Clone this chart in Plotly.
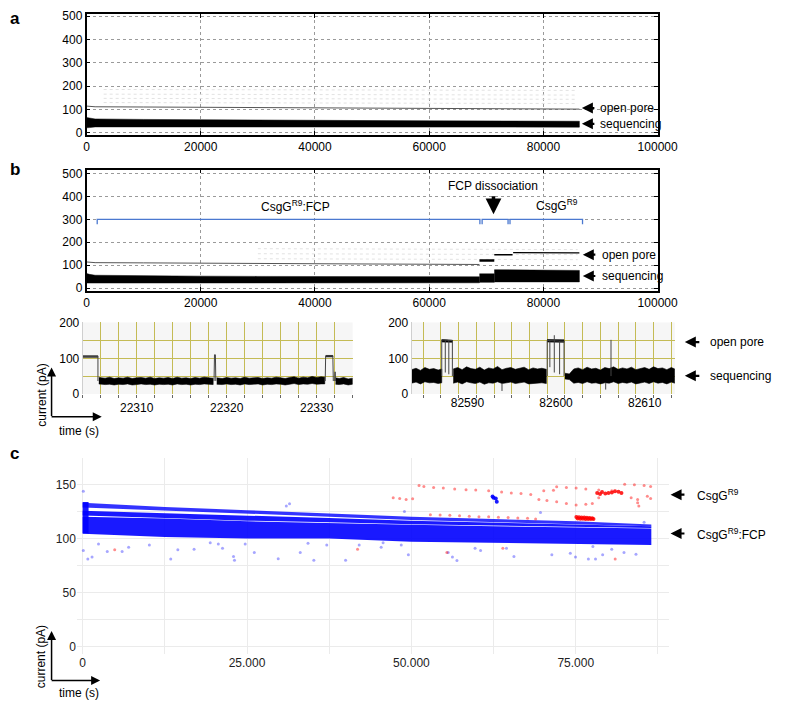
import plotly.graph_objects as go

W, H = 800, 714

# ---------------- panel a : full run, CsgG pore ----------------
a_t = [0, 500, 1500, 10000, 20000, 30000, 40000, 50000, 60000, 70000, 80000, 86300]
a_seq_lo = [22, 23, 26, 27, 26, 26, 26, 25, 25, 25, 25, 25]
a_seq_hi = [66, 64, 60, 58, 56, 55, 54, 53, 52, 51, 50, 50]
a_open = [115, 113, 112, 111, 110, 109, 108, 107, 106, 105, 103, 102]
a_faint_t = [3000, 86000]
a_faint_levels = [[186, 182], [166, 162], [148, 144], [130, 126]]

# ---------------- panel b : full run, CsgG:FCP pore ----------------
b_t1 = [0, 500, 1500, 10000, 20000, 30000, 40000, 50000, 60000, 68800]
b_seq_lo1 = [22, 23, 24, 24, 24, 23, 23, 23, 23, 23]
b_seq_hi1 = [64, 60, 56, 53, 52, 51, 50, 50, 49, 49]
b_open1 = [114, 112, 111, 110, 108, 107, 106, 105, 104, 103]
b_t2 = [68800, 71400]
b_seq_lo2 = [25, 25]
b_seq_hi2 = [62, 62]
b_open2 = [120, 120]
b_t3 = [71400, 74500, 80000, 86300]
b_seq_lo3 = [27, 27, 27, 27]
b_seq_hi3 = [80, 79, 78, 77]
b_open3_t = [71400, 74600]
b_open3 = [145, 145]
b_open4_t = [74700, 80000, 86300]
b_open4 = [155, 154, 154]
b_faint_t = [30000, 86000]
b_faint_levels = [[172, 168], [150, 146], [128, 124]]
b_brackets = [(1870, 68880), (69270, 73810), (74150, 86850)]
bracket_level = 300
bracket_foot = 279

# ---------------- left inset ----------------
li_seg1_t = [22305.8, 22306.5, 22307, 22307.5, 22308, 22308.5, 22309, 22309.5, 22310, 22310.5,
             22311, 22311.5, 22312, 22312.5, 22313, 22313.5, 22314, 22314.5, 22315, 22315.5,
             22316, 22316.5, 22317, 22317.5, 22318, 22318.5]
li_seg1_hi = [46, 44, 47, 43, 45, 44, 47, 43, 45, 46, 44, 47, 43, 45, 44, 46, 43, 47, 44, 45, 43, 46, 44, 47, 45, 44]
li_seg1_lo = [28, 26, 27, 25, 27, 26, 28, 25, 26, 28, 26, 27, 25, 27, 26, 27, 25, 28, 26, 27, 25, 27, 26, 28, 27, 26]
li_seg2_t = [22318.9, 22319.5, 22320, 22320.5, 22321, 22321.5, 22322, 22322.5, 22323, 22323.5,
             22324, 22324.5, 22325, 22325.5, 22326, 22326.5, 22327, 22327.5, 22328, 22328.5,
             22329, 22329.5, 22330, 22330.5, 22330.9]
li_seg2_hi = [45, 43, 46, 44, 45, 43, 47, 44, 45, 46, 43, 45, 44, 47, 45, 43, 46, 48, 44, 47, 45, 49, 46, 48, 47]
li_seg2_lo = [27, 26, 28, 26, 27, 25, 28, 26, 27, 28, 25, 27, 26, 28, 27, 25, 28, 29, 26, 28, 27, 29, 27, 28, 28]
li_seg3_t = [22332.1, 22332.5, 22333, 22333.5, 22334]
li_seg3_hi = [45, 43, 46, 42, 44]
li_seg3_lo = [27, 26, 28, 25, 27]
li_open_t = [[22304, 22305.7], [22331.0, 22331.8]]
li_open_hi = [[107, 107], [108, 108]]
li_open_lo = [[103, 103], [104, 104]]
li_step_t = [22304, 22305.7, 22305.7, None, 22318.6, 22318.65, 22318.75, 22318.8, None,
             22330.95, 22331.0, 22331.8, 22331.85, None, 22332.0, 22332.05, 22332.1]
li_step_y = [105, 105, 36, None, 36, 110, 110, 36, None, 36, 106, 106, 36, None, 36, 62, 36]
li_ticks = [22310, 22320, 22330]

# ---------------- right inset ----------------
ri_seg1_t = [82583.7, 82584.2, 82584.7, 82585.2, 82585.7, 82586.2, 82586.7, 82587.1]
ri_seg1_hi = [68, 72, 66, 74, 69, 71, 67, 70]
ri_seg1_lo = [30, 33, 28, 34, 31, 32, 29, 31]
ri_seg2_t = [82588.4, 82588.9, 82589.4, 82589.9, 82590.4, 82590.9, 82591.4, 82591.9, 82592.4, 82592.9,
             82593.4, 82593.9, 82594.4, 82594.9, 82595.4, 82595.9, 82596.4, 82596.9, 82597.4, 82597.9,
             82598.4, 82598.9]
ri_seg2_hi = [70, 74, 68, 76, 71, 69, 75, 67, 73, 70, 77, 68, 72, 74, 69, 71, 75, 68, 73, 70, 72, 69]
ri_seg2_lo = [30, 33, 28, 34, 31, 29, 33, 27, 31, 30, 34, 29, 31, 33, 29, 30, 33, 28, 31, 30, 31, 29]
ri_seg3_t = [82601.0, 82601.5, 82602.0, 82602.5, 82603.0, 82603.5, 82604.0, 82604.5, 82605.0, 82605.5,
             82606.0, 82606.5, 82607.0, 82607.5, 82608.0, 82608.5, 82609.0, 82609.5, 82610.0, 82610.5,
             82611.0, 82611.5, 82612.0, 82612.5, 82613.0, 82613.4]
ri_seg3_hi = [58, 56, 70, 73, 68, 75, 70, 72, 67, 74, 71, 76, 69, 73, 70, 75, 68, 72, 74, 69, 76, 71, 73, 68, 74, 70]
ri_seg3_lo = [42, 40, 30, 32, 29, 34, 30, 31, 28, 31, 30, 34, 29, 32, 30, 33, 28, 31, 33, 29, 34, 30, 32, 28, 33, 30]
ri_open_t = [[82587.1, 82588.3], [82599.0, 82600.9]]
ri_open_hi = [[153, 151], [153, 152]]
ri_open_lo = [[146, 145], [146, 145]]
ri_step_t = [82587.1, 82587.1, 82588.3, 82588.3, None, 82587.5, 82587.5, None, 82587.9, 82587.9, None,
             82599.0, 82599.0, 82600.9, 82600.9, None, 82599.3, 82599.3, None, 82599.8, 82599.8, None,
             82600.4, 82600.4, None, 82606.2, 82606.2, None, 82593.9, 82593.9, None, 82605.6, 82605.6]
ri_step_y = [50, 152, 150, 50, None, 150, 60, None, 150, 55, None,
             50, 150, 148, 50, None, 148, 75, None, 165, 60, None,
             148, 55, None, 50, 152, None, 30, 8, None, 30, 12]
ri_ticks = [82590, 82600, 82610]

# ---------------- panel c : event scatter ----------------
c_t = [0, 12500, 25000, 37500, 50000, 62500, 75000, 86500]
c_top_lo = [129.0, 126.0, 123.5, 120.5, 117.4, 115.5, 113.5, 111.5]
c_top_hi = [133.5, 129.5, 126.5, 123.5, 120.5, 118.3, 116.2, 113.2]
c_mid_lo = [121.5, 119.2, 116.8, 115.3, 113.5, 112.0, 111.0, 110.0]
c_mid_hi = [126.0, 123.5, 121.4, 119.2, 116.8, 115.0, 113.0, 111.5]
c_main_lo = [104.7, 101.7, 100.2, 100.2, 97.2, 95.7, 95.1, 94.2]
c_main_hi = [120.5, 118.8, 116.2, 114.4, 113.0, 111.5, 110.5, 109.5]
c_start_t = [0, 900]
c_start_lo = [105, 105]
c_start_hi = [134, 134]

c_blue_x = [103, 103, 788, 1428, 2413, 3743, 6009, 6994, 10146, 13397,
            14479, 16947, 19405, 20635, 21276, 22949, 23097, 24722, 26107, 29747,
            30979, 31471, 33096, 34278, 35165, 37134, 39993, 42061, 45410, 45700,
            48950, 48462, 49544, 55604, 56244, 56933, 59690, 60528, 64469, 65601,
            69646, 71368, 74174, 74962, 76929, 77611, 78012, 79092, 80476, 82344,
            84166, 85399]
c_blue_y = [144.0, 89.0, 81.2, 83.0, 95.1, 88.2, 88.2, 92.0, 94.2, 81.2,
            89.7, 90.3, 96.3, 95.1, 91.2, 83.6, 80.0, 95.1, 87.2, 81.5,
            130.4, 132.5, 87.2, 95.7, 80.0, 94.2, 80.0, 94.2, 92.0, 96.3,
            125.3, 94.2, 85.2, 87.2, 83.0, 79.7, 91.2, 89.0, 91.2, 83.6,
            124.4, 85.2, 86.6, 83.0, 81.2, 92.7, 81.2, 85.2, 90.2, 87.2,
            85.6, 115.3]
c_bclu_x = [62351, 62843, 62991, 62500]
c_bclu_y = [139.1, 137.3, 134.3, 138.0]

c_red_x = [51166, 51907, 53385, 54860, 56588, 58317, 59794, 61760, 63726, 65202, 66680, 68157,
           70137, 71614, 72102, 73580, 75057, 76535, 78500, 80480, 82445, 83922, 85400, 86390,
           47236, 48222, 49200, 50192,
           69399, 70621, 72102, 73580, 75057, 76535, 77522,
           78500, 83430, 84415, 85893, 86390, 84415, 84600,
           52895, 54372, 55850, 57327, 58805, 60282, 61760, 63237, 64715, 66192, 67670, 68897,
           4876, 41813, 63913, 81001, 55400]
c_red_y = [149.5, 148.5, 147.6, 147.0, 146.1, 145.5, 145.2, 144.6, 143.4, 142.5, 141.9, 141.0,
           144.6, 144.9, 148.3, 147.6, 147.0, 146.1, 145.2, 144.6, 150.6, 150.0, 149.5, 148.5,
           138.0, 137.4, 136.5, 137.1,
           136.5, 135.6, 134.4, 132.6, 131.4, 132.0, 132.6,
           138.0, 138.0, 136.5, 139.5, 137.4, 133.4, 130.4,
           122.3, 122.0, 121.7, 121.4, 120.8, 120.5, 120.5, 119.9, 119.6, 119.3, 119.0, 118.4,
           89.7, 90.3, 91.2, 81.2, 87.2]
c_rclu_x = [78263, 79002, 79987, 80972, 81957, 78700, 79500, 80500, 81500,
            75100, 75500, 75900, 76300, 76700, 77100, 77500, 75300, 75700, 76100, 76500, 76900, 77300, 77700]
c_rclu_y = [142.5, 143.4, 142.5, 144.0, 142.5, 141.5, 142.0, 143.0, 143.5,
            120.2, 120.0, 119.8, 119.6, 119.4, 119.2, 119.0, 118.8, 118.6, 118.5, 118.4, 118.4, 118.3, 118.2]

ab_xticks = [0, 20000, 40000, 60000, 80000, 100000]
ab_yticks = [0, 100, 200, 300, 400, 500]
c_xticks = [0, 25000, 50000, 75000]
c_xtext = ['0', '25.000', '50.000', '75.000']

FONT = 'Liberation Sans, Arial, Helvetica, sans-serif'
OLIVE = '#c4bb55'
BRACKET = '#4a78d0'
BLUE = 'rgba(0,0,255,0.9)'

fig = go.Figure()


def band(t, lo, hi, xa, ya, color, lw=0.0):
    fig.add_trace(go.Scatter(
        x=list(t) + list(t)[::-1], y=list(hi) + list(lo)[::-1],
        fill='toself', fillcolor=color, mode='lines',
        line=dict(color=color, width=lw),
        xaxis=xa, yaxis=ya, hoverinfo='skip'
    ))


def line(t, y, xa, ya, color='black', width=1.0, dash='solid'):
    fig.add_trace(go.Scatter(x=t, y=y, mode='lines', line=dict(color=color, width=width, dash=dash),
                             xaxis=xa, yaxis=ya, hoverinfo='skip'))


def dots(x, y, xa, ya, color, size=3):
    fig.add_trace(go.Scatter(x=x, y=y, mode='markers', marker=dict(color=color, size=size, line=dict(width=0)),
                             xaxis=xa, yaxis=ya, hoverinfo='skip'))


# panel a
for lv in a_faint_levels:
    line(a_faint_t, lv, 'x', 'y', '#e2e2e2', 1.0, 'dot')
line(a_t, a_open, 'x', 'y', '#555', 1.0)
band(a_t, a_seq_lo, a_seq_hi, 'x', 'y', 'black', 0.5)

# panel b
for lv in b_faint_levels:
    line(b_faint_t, lv, 'x2', 'y2', '#e2e2e2', 1.0, 'dot')
line(b_t1, b_open1, 'x2', 'y2', '#555', 1.0)
band(b_t1, b_seq_lo1, b_seq_hi1, 'x2', 'y2', 'black', 0.5)
band(b_t2, b_seq_lo2, b_seq_hi2, 'x2', 'y2', 'black', 0.5)
band(b_t3, b_seq_lo3, b_seq_hi3, 'x2', 'y2', 'black', 0.5)
line(b_t2, b_open2, 'x2', 'y2', 'black', 2.5)
line(b_open3_t, b_open3, 'x2', 'y2', 'black', 1.5)
line(b_open4_t, b_open4, 'x2', 'y2', 'black', 1.2)
for s, e in b_brackets:
    line([s, s, e, e], [bracket_foot, bracket_level, bracket_level, bracket_foot], 'x2', 'y2', BRACKET, 1.3)

# left inset
for t, lo, hi in [(li_seg1_t, li_seg1_lo, li_seg1_hi), (li_seg2_t, li_seg2_lo, li_seg2_hi),
                  (li_seg3_t, li_seg3_lo, li_seg3_hi)]:
    band(t, lo, hi, 'x3', 'y3', 'black', 0.6)
for t, lo, hi in zip(li_open_t, li_open_lo, li_open_hi):
    band(t, lo, hi, 'x3', 'y3', 'black', 0.6)
line(li_step_t, li_step_y, 'x3', 'y3', '#444', 1.0)

# right inset
for t, lo, hi in [(ri_seg1_t, ri_seg1_lo, ri_seg1_hi), (ri_seg2_t, ri_seg2_lo, ri_seg2_hi),
                  (ri_seg3_t, ri_seg3_lo, ri_seg3_hi)]:
    band(t, lo, hi, 'x4', 'y4', 'black', 0.6)
for t, lo, hi in zip(ri_open_t, ri_open_lo, ri_open_hi):
    band(t, lo, hi, 'x4', 'y4', 'black', 0.6)
line(ri_step_t, ri_step_y, 'x4', 'y4', '#444', 1.0)

# panel c
band(c_t, c_main_lo, c_main_hi, 'x5', 'y5', BLUE)
band(c_t, c_mid_lo, c_mid_hi, 'x5', 'y5', BLUE)
band(c_t, c_top_lo, c_top_hi, 'x5', 'y5', 'rgba(0,0,255,0.8)')
band(c_start_t, c_start_lo, c_start_hi, 'x5', 'y5', BLUE)
dots(c_blue_x, c_blue_y, 'x5', 'y5', 'rgba(0,0,255,0.35)', 3)
dots(c_bclu_x, c_bclu_y, 'x5', 'y5', 'rgba(0,0,255,0.9)', 4)
dots(c_red_x, c_red_y, 'x5', 'y5', 'rgba(255,0,0,0.45)', 3)
dots(c_rclu_x, c_rclu_y, 'x5', 'y5', 'rgba(255,0,0,0.85)', 4)


def dom_x(a, b):
    return [a / W, b / W]


def dom_y(top, bottom):
    return [1 - bottom / H, 1 - top / H]


frame = dict(showline=True, linecolor='black', linewidth=1.5, mirror='ticks', ticks='inside', ticklen=4,
             tickcolor='black', showgrid=True, gridcolor='#9a9a9a', griddash='dot', gridwidth=1,
             zeroline=False, tickfont=dict(size=12, color='black'))
inset_x = dict(showgrid=True, gridcolor=OLIVE, gridwidth=1, zeroline=False, showline=False,
               ticks='outside', ticklen=3, tickcolor='#666', tickfont=dict(size=12, color='black'))
inset_y = dict(showgrid=True, gridcolor=OLIVE, gridwidth=1, zeroline=False, showline=True,
               linecolor='#cfcfcf', linewidth=1, ticks='', tickvals=[0, 100, 200], range=[-0.5, 201],
               minor=dict(dtick=50, tick0=0, showgrid=True, gridcolor=OLIVE, gridwidth=1),
               tickfont=dict(size=12, color='black'))
c_grid = dict(showgrid=True, gridcolor='#ebebeb', gridwidth=1.2, zeroline=False, showline=False, ticks='',
              tickfont=dict(size=12, color='#222'))

fig.update_layout(
    width=W, height=H, margin=dict(l=0, r=0, t=0, b=0),
    paper_bgcolor='white', plot_bgcolor='white', showlegend=False,
    font=dict(family=FONT, size=12, color='black'),
    xaxis=dict(domain=dom_x(86, 674), range=[0, 100000], anchor='y',
               tickvals=ab_xticks, ticktext=[str(v) for v in ab_xticks], **frame),
    yaxis=dict(domain=dom_y(8.3, 131), range=[-7, 508], anchor='x',
               tickvals=ab_yticks, **frame),
    xaxis2=dict(domain=dom_x(86, 674), range=[0, 100000], anchor='y2',
                tickvals=ab_xticks, ticktext=[str(v) for v in ab_xticks], **frame),
    yaxis2=dict(domain=dom_y(166.7, 290), range=[-11.6, 517], anchor='x2',
                tickvals=ab_yticks, **frame),
    xaxis3=dict(domain=dom_x(82, 360), range=[22304.0, 22334.0], anchor='y3',
                tickvals=li_ticks, ticktext=[str(v) for v in li_ticks],
                minor=dict(dtick=2, tick0=22304, showgrid=True, gridcolor=OLIVE, ticks='outside',
                           ticklen=3, tickcolor='#666'), **inset_x),
    yaxis3=dict(domain=dom_y(322.3, 395.2), anchor='x3', **inset_y),
    xaxis4=dict(domain=dom_x(420.7, 691.7), range=[82583.7, 82613.4], anchor='y4',
                tickvals=ri_ticks, ticktext=[str(v) for v in ri_ticks],
                minor=dict(dtick=2, tick0=82585, showgrid=True, gridcolor=OLIVE, ticks='outside',
                           ticklen=3, tickcolor='#666'), **{**inset_x, 'showgrid': False, 'ticks': ''}),
    yaxis4=dict(domain=dom_y(322.3, 395.2), anchor='x4', **inset_y),
    xaxis5=dict(domain=dom_x(76, 686), range=[-887, 89230], anchor='y5', tickvals=c_xticks, ticktext=c_xtext,
                minor=dict(dtick=12500, tick0=0, showgrid=True, gridcolor='#ebebeb', gridwidth=1.2), **c_grid),
    yaxis5=dict(domain=dom_y(460, 660), range=[-7, 175.3], anchor='x5', tickvals=[0, 50, 100, 150],
                minor=dict(dtick=25, tick0=0, showgrid=True, gridcolor='#ebebeb', gridwidth=1.2), **c_grid),
)

# grey backgrounds for the two zoomed traces
for x0, x1 in [(82, 360), (420.7, 691.7)]:
    fig.add_shape(type='rect', xref='paper', yref='paper', x0=x0 / W, x1=x1 / W,
                  y0=1 - 395.2 / H, y1=1 - 322.3 / H, fillcolor='#f6f6f6', line=dict(width=0), layer='below')


def arrow(tip, tail, width=2.0, size=1.0):
    fig.add_annotation(x=tip[0] / W, y=1 - tip[1] / H, xref='paper', yref='paper',
                       ax=tail[0] - tip[0], ay=tail[1] - tip[1], text='', showarrow=True,
                       arrowhead=2, arrowsize=size, arrowwidth=width, arrowcolor='black')


def label(text, px, py, anchor='center', size=12, angle=0, bold=False):
    if bold:
        text = '<b>' + text + '</b>'
    fig.add_annotation(x=px / W, y=1 - py / H, xref='paper', yref='paper', text=text, showarrow=False,
                       xanchor=anchor, yanchor='middle', textangle=angle,
                       font=dict(family=FONT, size=size, color='black'))


# panel letters
label('a', 12, 12.7, size=17, bold=True)
label('b', 12, 166.5, size=17, bold=True)
label('c', 12, 456, size=17, bold=True)

# panel a arrows
arrow((596, 104), (610, 104), 2.2)
label('open pore', 613, 104, 'left')
arrow((596, 120), (610, 120), 2.2)
label('sequencing', 613, 120, 'left')

# panel b
arrow((597, 253.3), (611, 253.3), 2.2)
label('open pore', 615, 253.3, 'left')
arrow((597, 275), (611, 275), 2.2)
label('sequencing', 615, 275, 'left')
label('CsgG<sup>R9</sup>:FCP', 301, 203.3)
label('FCP dissociation', 505, 183.3)
arrow((505, 212), (505, 192.5), 3.5, 0.9)
label('CsgG<sup>R9</sup>', 570, 202.3)

# insets
arrow((702, 342.3), (718, 342.3), 2.2)
label('open pore', 726, 342.3, 'left')
arrow((702, 376.7), (718, 376.7), 2.2)
label('sequencing', 726, 376.7, 'left')
arrow((50, 368.3), (50, 418.3), 1.5, 1.2)
arrow((101.7, 418.3), (50, 418.3), 1.5, 1.2)
label('current (pA)', 40, 396, angle=-90)
label('time (s)', 78.3, 433.3)

# panel c
arrow((687.3, 497.7), (702.7, 497.7), 2.2)
label('CsgG<sup>R9</sup>', 712.7, 497.7, 'left')
arrow((687.3, 537.3), (702.7, 537.3), 2.2)
label('CsgG<sup>R9</sup>:FCP', 712.7, 537.3, 'left')
arrow((50, 636.7), (50, 687), 1.5, 1.2)
arrow((100, 687), (50, 687), 1.5, 1.2)
label('current (pA)', 40, 662.5, angle=-90)
label('time (s)', 78.3, 700)

fig.write_html("out.html", config={'displayModeBar': False},
               post_script="document.body.style.margin='0';")
